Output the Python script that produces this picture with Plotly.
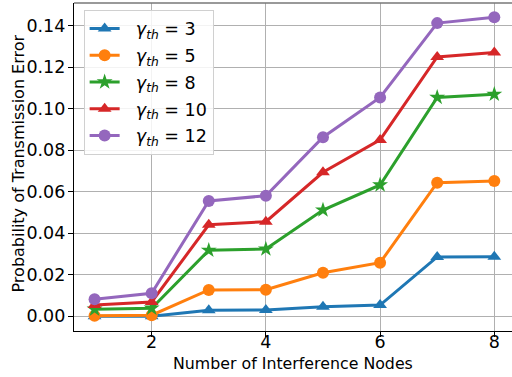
import plotly.graph_objects as go

x_nodes = [1, 2, 3, 4, 5, 6, 7, 8]
g3 = [0.0000, 0.0000, 0.0029, 0.0030, 0.0046, 0.0054, 0.0286, 0.0287]
g5 = [0.0003, 0.0005, 0.0127, 0.0128, 0.0210, 0.0258, 0.0644, 0.0652]
g8 = [0.0034, 0.0039, 0.0318, 0.0324, 0.0512, 0.0633, 0.1055, 0.1070]
g10 = [0.0054, 0.0069, 0.0441, 0.0456, 0.0694, 0.0850, 0.1250, 0.1272]
g12 = [0.0082, 0.0111, 0.0556, 0.0581, 0.0863, 0.1055, 0.1413, 0.1441]

x_title = "Number of Interference Nodes"
y_title = "Probability of Transmission Error"

series = [
    ("3", g3, "#1f77b4", "triangle-up", 12),
    ("5", g5, "#ff7f0e", "circle", 12),
    ("8", g8, "#2ca02c", "star", 12),
    ("10", g10, "#d62728", "triangle-up", 12),
    ("12", g12, "#9467bd", "circle", 12),
]

fig = go.Figure()
for name, ys, col, sym, sz in series:
    fig.add_trace(go.Scatter(
        x=x_nodes, y=ys, mode="lines+markers",
        name="&nbsp;&nbsp;<i>γ</i><sub><i>th</i></sub> = " + name,
        legendgroup=name,
        line=dict(color=col, width=3),
        marker=dict(symbol=sym, size=sz, color=col, line=dict(width=0)),
    ))

font = "DejaVu Sans, sans-serif"
fig.update_layout(
    width=512, height=377,
    margin=dict(l=74, r=0, t=3, b=46),
    paper_bgcolor="white", plot_bgcolor="white",
    font=dict(family=font, color="black"),
    showlegend=True,
    legend=dict(
        x=0.022, y=0.98, xanchor="left", yanchor="top",
        bgcolor="rgba(255,255,255,0.85)", bordercolor="#d0d0d0", borderwidth=1,
        font=dict(size=17.5, family=font), tracegroupgap=1,
    ),
    xaxis=dict(
        range=[0.64, 8.31], tickvals=[2, 4, 6, 8],
        showgrid=True, gridcolor="#b0b0b0", gridwidth=1,
        showline=True, linecolor="black", linewidth=1.2,
        ticks="outside", ticklen=5, tickcolor="black",
        tickfont=dict(size=17.5), zeroline=False, ticklabelstandoff=-10,
    ),
    yaxis=dict(
        range=[-0.0071, 0.151],
        tickvals=[0, 0.02, 0.04, 0.06, 0.08, 0.10, 0.12, 0.14],
        ticktext=["0.00", "0.02", "0.04", "0.06", "0.08", "0.10", "0.12", "0.14"],
        showgrid=True, gridcolor="#b0b0b0", gridwidth=1,
        showline=True, linecolor="black", linewidth=1.2,
        ticks="outside", ticklen=5, tickcolor="black",
        tickfont=dict(size=17.5), zeroline=False, ticklabelstandoff=-1,
    ),
    annotations=[
        dict(text=x_title, xref="paper", yref="paper", x=0.5, y=0,
             xanchor="center", yanchor="middle", yshift=-32, showarrow=False,
             font=dict(size=15.8)),
        dict(text=y_title, xref="paper", yref="paper", x=0, y=0.5, textangle=-90,
             xanchor="center", yanchor="middle", xshift=-56.5, yshift=3, showarrow=False,
             font=dict(size=16)),
    ],
)
fig.add_shape(type="line", xref="paper", yref="paper", x0=0, x1=1, y0=1, y1=1,
              line=dict(color="#777777", width=1.5))

fig.write_html("out.html", config={"displayModeBar": False},
               post_script="document.body.style.margin='0';")
